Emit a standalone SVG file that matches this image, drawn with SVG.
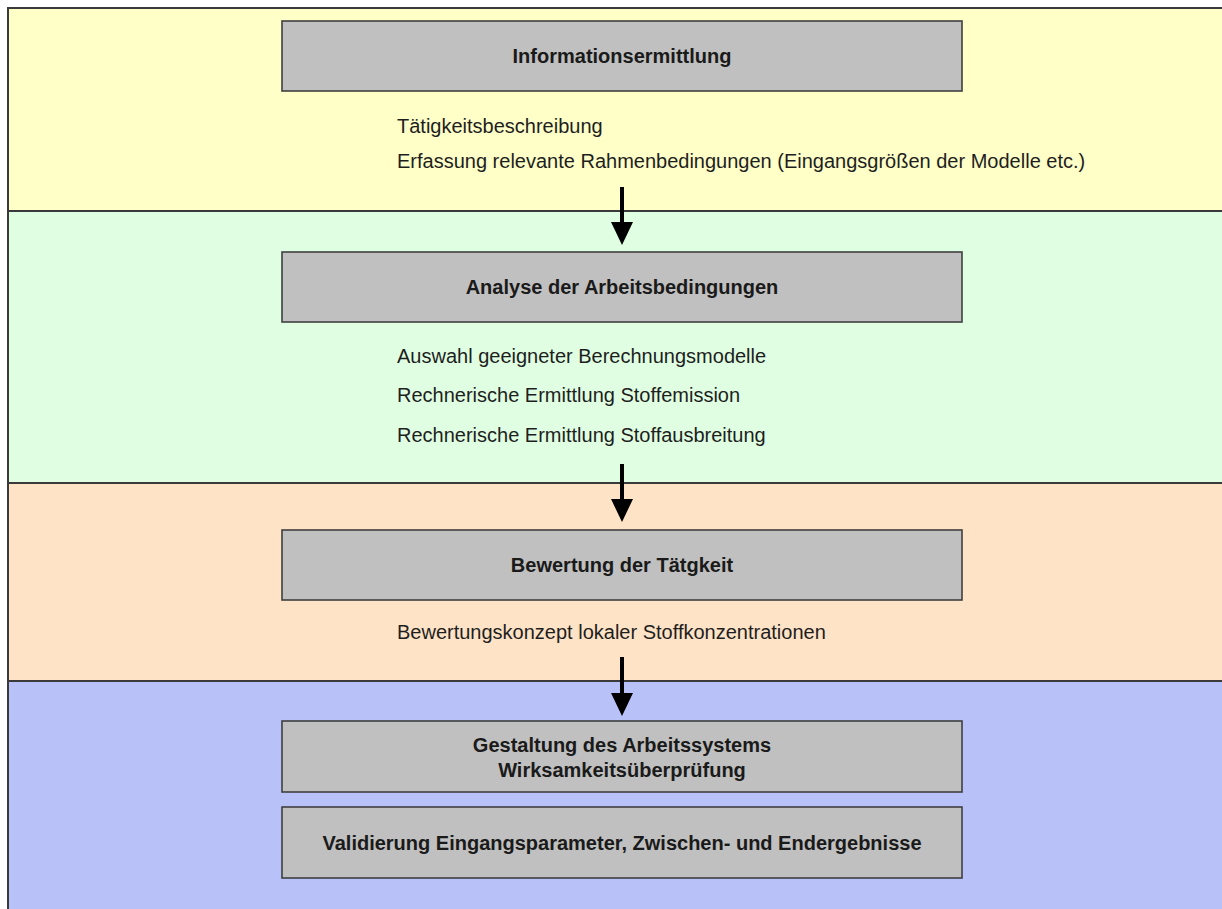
<svg xmlns="http://www.w3.org/2000/svg" width="1222" height="909" viewBox="0 0 1222 909">
<defs>
<style>
.band{stroke:#3a3a3a;stroke-width:2}
.box{fill:#c0c0c0;stroke:#3f3f3f;stroke-width:1.6}
.title{font-family:"Liberation Sans",Arial,sans-serif;font-size:20px;font-weight:bold;fill:#1a1a1a;text-anchor:middle}
.body{font-family:"Liberation Sans",Arial,sans-serif;font-size:20px;fill:#1e1e1e}
.arrow{stroke:#000;stroke-width:4;fill:none}
</style>
<marker id="head" markerUnits="userSpaceOnUse" markerWidth="24" markerHeight="24" viewBox="0 0 24 24" refX="0" refY="11" orient="auto">
<path d="M0,0 L23,11 L0,22 z" fill="#000"/>
</marker>
</defs>
<rect width="1222" height="909" fill="#ffffff"/>
<g id="bands">
<rect class="band" x="8" y="8" width="1230" height="203" fill="#ffffc8"/>
<rect class="band" x="8" y="211" width="1230" height="272" fill="#e0ffe2"/>
<rect class="band" x="8" y="483" width="1230" height="198" fill="#ffe3c6"/>
<rect class="band" x="8" y="681" width="1230" height="240" fill="#b8c1f8"/>
</g>
<g id="node-info">
<rect class="box" x="282" y="21" width="680" height="70"/>
<text class="title" x="622" y="63">Informationsermittlung</text>
<text class="body" x="397" y="133">Tätigkeitsbeschreibung</text>
<text class="body" x="397" y="168">Erfassung relevante Rahmenbedingungen (Eingangsgrößen der Modelle etc.)</text>
</g>
<g id="node-analyse">
<rect class="box" x="282" y="252" width="680" height="70"/>
<text class="title" x="622" y="294">Analyse der Arbeitsbedingungen</text>
<text class="body" x="397" y="363">Auswahl geeigneter Berechnungsmodelle</text>
<text class="body" x="397" y="402">Rechnerische Ermittlung Stoffemission</text>
<text class="body" x="397" y="442">Rechnerische Ermittlung Stoffausbreitung</text>
</g>
<g id="node-bewertung">
<rect class="box" x="282" y="530" width="680" height="70"/>
<text class="title" x="622" y="572">Bewertung der Tätgkeit</text>
<text class="body" x="397" y="639">Bewertungskonzept lokaler Stoffkonzentrationen</text>
</g>
<g id="node-gestaltung">
<rect class="box" x="282" y="721" width="680" height="71"/>
<text class="title" x="622" y="752">Gestaltung des Arbeitssystems</text>
<text class="title" x="622" y="777">Wirksamkeitsüberprüfung</text>
</g>
<g id="node-validierung">
<rect class="box" x="282" y="807" width="680" height="71"/>
<text class="title" x="622" y="850">Validierung Eingangsparameter, Zwischen- und Endergebnisse</text>
</g>
<g id="connectors">
<line class="arrow" x1="622" y1="187" x2="622" y2="222" marker-end="url(#head)"/>
<line class="arrow" x1="622" y1="464" x2="622" y2="499" marker-end="url(#head)"/>
<line class="arrow" x1="622" y1="657" x2="622" y2="693" marker-end="url(#head)"/>
</g>
</svg>
